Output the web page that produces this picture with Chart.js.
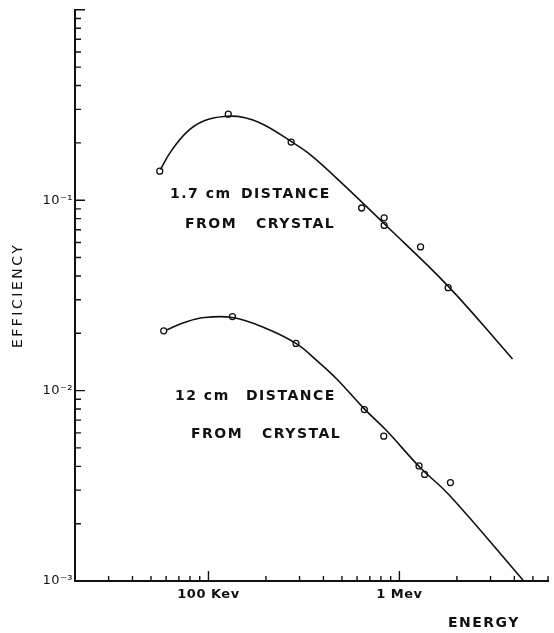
<!DOCTYPE html>
<html>
<head>
<meta charset="utf-8">
<script src="https://cdn.jsdelivr.net/npm/chart.js@4.4.1/dist/chart.umd.min.js"></script>
<style>
html, body { margin: 0; padding: 0; background: #fff; }
#wrap { width: 554px; height: 633px; }
</style>
</head>
<body>
<div id="wrap"><canvas id="chart" width="554" height="633"></canvas></div>
<script>
// ----------------------------
// data (energy in MeV, efficiency)
// ----------------------------

// 1.7 cm from crystal - measured points
const nearEnergy = [0.0556, 0.127, 0.271, 0.634, 0.832, 0.832, 1.29, 1.80];
const nearEff    = [0.142, 0.283, 0.202, 0.091, 0.0808, 0.0737, 0.0568, 0.0347];

// 1.7 cm - drawn curve
const nearCurveEnergy = [0.0560, 0.0636, 0.0777, 0.0950, 0.1207, 0.1534, 0.195, 0.2706, 0.3411, 0.509, 0.8226, 1.793, 3.91];
const nearCurveEff    = [0.1448, 0.1805, 0.2298, 0.2614, 0.2753, 0.2720, 0.249, 0.2036, 0.1735, 0.1208, 0.0761, 0.0355, 0.01466];

// 12 cm from crystal - measured points
const farEnergy = [0.0583, 0.1334, 0.2873, 0.655, 0.828, 1.267, 1.355, 1.85];
const farEff    = [0.0206, 0.02449, 0.01769, 0.00795, 0.00576, 0.00402, 0.00363, 0.00329];

// 12 cm - drawn curve
const farCurveEnergy = [0.0599, 0.0747, 0.0950, 0.1334, 0.195, 0.2873, 0.3696, 0.4697, 0.647, 0.8555, 1.276, 1.828, 4.48];
const farCurveEff    = [0.02078, 0.02278, 0.02419, 0.02419, 0.02145, 0.01769, 0.01436, 0.01151, 0.00812, 0.00617, 0.00397, 0.00282, 0.001];

// axis ticks
const xMin = 0.02, xMax = 6;
const yMin = 0.001, yMax = 1;
const xTickValues = [0.1, 1];
const xTickLabels = ["100 Kev", "1 Mev"];
const yTickValues = [0.001, 0.01, 0.1, 1];
const yTickLabels = ["10\u207B\u00B3", "10\u207B\u00B2", "10\u207B\u00B9", ""];

const FONT = "'DejaVu Sans', sans-serif";
const INK = "#111";

// ----------------------------
// helpers
// ----------------------------

function toPoints(xs, ys) {
    return xs.map((x, i) => ({ x: x, y: ys[i] }));
}

// 1..9 x every decade between min and max
function logTicks(min, max) {
    const out = [];
    for (let e = Math.floor(Math.log10(min)); e <= Math.ceil(Math.log10(max)); e++) {
        for (let m = 1; m <= 9; m++) {
            const v = Number((m * Math.pow(10, e)).toPrecision(6));
            if (v >= min * 0.9999 && v <= max * 1.0001) out.push(v);
        }
    }
    return out;
}

function findIndex(list, value) {
    return list.findIndex(v => Math.abs(v / value - 1) < 1e-6);
}

// ----------------------------
// plugins
// ----------------------------

// tick marks drawn inward from the axes
const inwardTicks = {
    id: "inwardTicks",
    beforeDraw(chart) {
        // wide spacing for the axis title (drawn first)
        chart.ctx.letterSpacing = "2.5px";
    },
    afterDatasetsDraw(chart) {
        const { ctx, chartArea, scales } = chart;
        ctx.save();
        ctx.strokeStyle = INK;
        ctx.lineWidth = 1.4;
        ctx.beginPath();
        scales.x.ticks.forEach(t => {
            const px = scales.x.getPixelForValue(t.value);
            if (px <= chartArea.left + 1) return;
            const len = findIndex(xTickValues, t.value) >= 0 ? 10 : 5;
            ctx.moveTo(px, chartArea.bottom);
            ctx.lineTo(px, chartArea.bottom - len);
        });
        scales.y.ticks.forEach(t => {
            const py = scales.y.getPixelForValue(t.value);
            if (py >= chartArea.bottom - 1) return;
            const len = findIndex(yTickValues, t.value) >= 0 ? 10 : 6;
            ctx.moveTo(chartArea.left, py);
            ctx.lineTo(chartArea.left + len, py);
        });
        ctx.stroke();
        ctx.restore();
        // tighter spacing for tick labels (drawn after datasets)
        ctx.letterSpacing = "0.5px";
    }
};

// hand lettering on the plot
const lettering = {
    id: "lettering",
    afterDraw(chart) {
        const ctx = chart.ctx;
        ctx.save();
        ctx.fillStyle = INK;
        ctx.textBaseline = "alphabetic";
        ctx.textAlign = "left";
        ctx.font = "bold 14px " + FONT;
        ctx.letterSpacing = "1.5px";
        ctx.fillText("1.7 cm", 170, 198);
        ctx.fillText("DISTANCE", 241, 198);
        ctx.fillText("FROM", 185, 228);
        ctx.fillText("CRYSTAL", 256, 228);
        ctx.fillText("12 cm", 175, 400);
        ctx.fillText("DISTANCE", 246, 400);
        ctx.fillText("FROM", 191, 438);
        ctx.fillText("CRYSTAL", 262, 438);
        ctx.fillText("ENERGY", 448, 627);
        ctx.restore();
    }
};

// ----------------------------
// chart
// ----------------------------

const pointStyle = {
    showLine: false,
    pointRadius: 3,
    pointBorderWidth: 1.3,
    pointBorderColor: INK,
    pointBackgroundColor: "#fff"
};

const curveStyle = {
    showLine: true,
    pointRadius: 0,
    borderColor: INK,
    borderWidth: 1.6,
    tension: 0.4
};

new Chart(document.getElementById("chart"), {
    type: "scatter",
    data: {
        datasets: [
            Object.assign({ label: "1.7 cm curve", data: toPoints(nearCurveEnergy, nearCurveEff) }, curveStyle),
            Object.assign({ label: "12 cm curve", data: toPoints(farCurveEnergy, farCurveEff) }, curveStyle),
            Object.assign({ label: "1.7 cm", data: toPoints(nearEnergy, nearEff) }, pointStyle),
            Object.assign({ label: "12 cm", data: toPoints(farEnergy, farEff) }, pointStyle)
        ]
    },
    options: {
        responsive: false,
        animation: false,
        layout: { padding: { top: 8, right: 1, left: 0, bottom: 0 } },
        plugins: {
            legend: { display: false },
            tooltip: { enabled: false }
        },
        scales: {
            x: {
                type: "logarithmic",
                min: xMin,
                max: xMax,
                afterBuildTicks(scale) {
                    scale.ticks = logTicks(xMin, xMax).map(v => ({ value: v }));
                },
                afterFit(scale) {
                    scale.height = 52;
                },
                grid: { display: false, drawTicks: false },
                border: { display: true, color: INK, width: 2 },
                ticks: {
                    z: 1,
                    autoSkip: false,
                    maxRotation: 0,
                    minRotation: 0,
                    padding: 6,
                    color: INK,
                    font: { family: FONT, size: 13, weight: "bold" },
                    callback(value) {
                        const i = findIndex(xTickValues, value);
                        return i >= 0 ? xTickLabels[i] : "";
                    }
                }
            },
            y: {
                type: "logarithmic",
                min: yMin,
                max: yMax,
                afterBuildTicks(scale) {
                    scale.ticks = logTicks(yMin, yMax).map(v => ({ value: v }));
                },
                afterFit(scale) {
                    scale.width = 75;
                },
                grid: { display: false, drawTicks: false },
                border: { display: true, color: INK, width: 2 },
                title: {
                    display: true,
                    text: "EFFICIENCY",
                    color: INK,
                    font: { family: FONT, size: 14 },
                    padding: { top: 10, bottom: 0 }
                },
                ticks: {
                    z: 1,
                    autoSkip: false,
                    padding: 2,
                    color: INK,
                    font: { family: FONT, size: 13 },
                    callback(value) {
                        const i = findIndex(yTickValues, value);
                        return i >= 0 ? yTickLabels[i] : "";
                    }
                }
            }
        }
    },
    plugins: [inwardTicks, lettering]
});
</script>
</body>
</html>
